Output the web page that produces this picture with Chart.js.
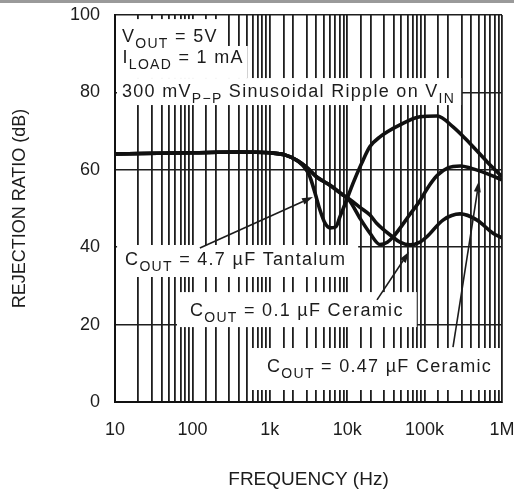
<!DOCTYPE html>
<html><head><meta charset="utf-8">
<script src="https://cdn.jsdelivr.net/npm/chart.js@4.4.1/dist/chart.umd.min.js"></script>
<style>html,body{margin:0;padding:0;background:#fff;overflow:hidden}</style>
</head><body>
<canvas id="c" width="514" height="493"></canvas>
<script>
// ---- data ----
const xTickValues = [10, 100, 1000, 10000, 100000, 1000000];
const xTickLabels = ['10', '100', '1k', '10k', '100k', '1M'];

const tantalumFreq = [10, 100, 400, 1000, 1600, 2300, 3000, 3300, 3840, 4450, 5170, 6000, 7160, 8070, 9840, 11880, 15380, 19700, 26500, 48000, 87000, 145000, 233000, 386000, 640000, 1000000];
const tantalumDb   = [64.1, 64.4, 64.6, 64.4, 63.8, 62.3, 59.8, 58.2, 54.0, 49.6, 46.2, 45.0, 45.3, 47.9, 52.2, 56.5, 61.7, 66.0, 68.5, 71.6, 73.7, 73.9, 71.1, 66.8, 62.1, 58.2];

const c047Freq = [10, 100, 400, 1000, 1600, 2300, 3000, 4000, 6000, 8800, 10500, 14600, 19700, 26500, 33000, 39000, 64800, 87000, 107000, 145000, 200000, 290000, 386000, 640000, 1000000];
const c047Db   = [64.1, 64.4, 64.6, 64.4, 63.8, 62.3, 60.6, 58.2, 56.0, 53.5, 52.3, 47.5, 43.6, 40.7, 41.3, 42.6, 48.5, 52.0, 55.0, 58.5, 60.5, 61.0, 60.5, 59.0, 57.4];

const c01Freq = [10, 100, 400, 1000, 1600, 2300, 3000, 4000, 6000, 8800, 10500, 14600, 19700, 24000, 39000, 48000, 64800, 87000, 107000, 173000, 287000, 476000, 765000, 1000000];
const c01Db   = [64.1, 64.4, 64.6, 64.4, 63.8, 62.3, 60.6, 58.2, 56.0, 53.5, 52.5, 50.3, 48.3, 46.2, 42.6, 41.3, 40.6, 41.3, 42.7, 47.0, 48.6, 47.0, 43.6, 42.4];

// ---- annotations (anchored in data coordinates) ----
const noteLines = [
  { f: 12.3, db: 93.0, runs: [['V'], ['OUT', 1], [' = 5V']], pad: [5, 4, 23, 4] },
  { f: 12.5, db: 87.6, runs: [['I'], ['LOAD', 1], [' = 1 mA']], pad: [6, 4, 17, 15] },
  { f: 12.3, db: 78.8, runs: [['300 mV'], ['P\u2212P', 1], [' Sinusoidal Ripple on V'], ['IN', 1]], pad: [5, 6, 19, 8] },
  { f: 13.5, db: 35.4, runs: [['C'], ['OUT', 1], [' = 4.7 \u00b5F Tantalum']], pad: [8, 12, 20, 12] },
  { f: 93, db: 22.2, runs: [['C'], ['OUT', 1], [' = 0.1 \u00b5F Ceramic']], pad: [13, 13, 24, 11] },
  { f: 920, db: 7.75, runs: [['C'], ['OUT', 1], [' = 0.47 \u00b5F Ceramic']], pad: [19, 8, 24, 18] }
];
const arrows = [
  { from: [125, 39.8], to: [3614, 53.0] },
  { from: [24270, 26.4], to: [62800, 38.8] },
  { from: [232800, 14.2], to: [505000, 57.1] }
];

const MAIN_FONT = '18px "Liberation Sans", Arial, sans-serif';
const SUB_FONT = '14px "Liberation Sans", Arial, sans-serif';
const SUB_DY = 6;
const INK = '#1c1c1c';

function pts(fs, ds) { return fs.map((f, i) => ({ x: f, y: ds[i] })); }

function runsWidth(ctx, runs) {
  let w = 0;
  runs.forEach(r => { ctx.font = r[1] ? SUB_FONT : MAIN_FONT; w += ctx.measureText(r[0]).width; });
  return w;
}
function noPad(s) { s.paddingTop = 0; s.paddingBottom = 0; s.paddingLeft = 0; s.paddingRight = 0; }

const notesPlugin = {
  id: 'notes',
  beforeDatasetsDraw(chart) {
    const ctx = chart.ctx, xs = chart.scales.x, ys = chart.scales.y, a = chart.chartArea;
    ctx.save();
    ctx.letterSpacing = '1.3px';
    noteLines.forEach(n => {
      const x = xs.getPixelForValue(n.f), y = ys.getPixelForValue(n.db);
      const w = runsWidth(ctx, n.runs);
      let l = Math.max(x - n.pad[0], a.left + 2), r = Math.min(x + w + n.pad[1], a.right - 2);
      ctx.fillStyle = '#fff';
      ctx.fillRect(l, y - n.pad[2], r - l, n.pad[2] + n.pad[3]);
    });
    ctx.fillStyle = INK;
    ctx.textBaseline = 'alphabetic';
    ctx.textAlign = 'left';
    noteLines.forEach(n => {
      let x = xs.getPixelForValue(n.f);
      const y = ys.getPixelForValue(n.db);
      n.runs.forEach(r => {
        ctx.font = r[1] ? SUB_FONT : MAIN_FONT;
        ctx.fillText(r[0], x, y + (r[1] ? SUB_DY : 0));
        x += ctx.measureText(r[0]).width;
      });
    });
    ctx.restore();
  },
  afterDatasetsDraw(chart) {
    const ctx = chart.ctx, xs = chart.scales.x, ys = chart.scales.y;
    ctx.save();
    ctx.strokeStyle = INK; ctx.fillStyle = INK; ctx.lineWidth = 1.6;
    arrows.forEach(ar => {
      const x0 = xs.getPixelForValue(ar.from[0]), y0 = ys.getPixelForValue(ar.from[1]);
      const x1 = xs.getPixelForValue(ar.to[0]), y1 = ys.getPixelForValue(ar.to[1]);
      const ang = Math.atan2(y1 - y0, x1 - x0), L = 11, H = 3.5;
      const bx = x1 - L * Math.cos(ang), by = y1 - L * Math.sin(ang);
      ctx.beginPath(); ctx.moveTo(x0, y0); ctx.lineTo(bx, by); ctx.stroke();
      ctx.beginPath();
      ctx.moveTo(x1, y1);
      ctx.lineTo(bx + H * Math.sin(ang), by - H * Math.cos(ang));
      ctx.lineTo(bx - H * Math.sin(ang), by + H * Math.cos(ang));
      ctx.closePath(); ctx.fill();
    });
    ctx.restore();
  },
  afterDraw(chart) {
    const ctx = chart.ctx;
    ctx.save(); ctx.fillStyle = '#9a9a9a'; ctx.fillRect(0, 0, chart.width, 3); ctx.restore();
  }
};

const curveStyle = { borderColor: '#111', borderWidth: 3.6, pointRadius: 0, tension: 0.4, cubicInterpolationMode: 'monotone', fill: false };

new Chart(document.getElementById('c'), {
  type: 'line',
  data: {
    datasets: [
      Object.assign({ label: 'COUT = 4.7 µF Tantalum', data: pts(tantalumFreq, tantalumDb) }, curveStyle),
      Object.assign({ label: 'COUT = 0.47 µF Ceramic', data: pts(c047Freq, c047Db) }, curveStyle),
      Object.assign({ label: 'COUT = 0.1 µF Ceramic', data: pts(c01Freq, c01Db) }, curveStyle)
    ]
  },
  options: {
    responsive: false,
    devicePixelRatio: 1,
    animation: false,
    layout: { padding: { top: 15, right: 12, left: 0, bottom: 0 } },
    plugins: { legend: { display: false }, tooltip: { enabled: false } },
    scales: {
      x: {
        type: 'logarithmic', min: 10, max: 1000000,
        afterFit(s) { s.height = 91; noPad(s); },
        grid: { color: '#1e1e1e', lineWidth: 1.8, drawTicks: false },
        border: { color: '#111', width: 2 },
        ticks: {
          autoSkip: false, maxRotation: 0, padding: 17, color: INK,
          font: { family: '"Liberation Sans", Arial, sans-serif', size: 18 },
          callback(v) {
            const i = xTickValues.findIndex(t => Math.abs(t - v) / t < 1e-6);
            return i >= 0 ? xTickLabels[i] : '';
          }
        },
        title: { display: true, text: 'FREQUENCY (Hz)', color: INK, padding: { top: 0, bottom: 2 },
          font: { family: '"Liberation Sans", Arial, sans-serif', size: 19 } }
      },
      y: {
        min: 0, max: 100,
        afterFit(s) { s.width = 115; noPad(s); },
        grid: { color: '#1e1e1e', lineWidth: 1.6, drawTicks: false },
        border: { color: '#111', width: 2 },
        ticks: { stepSize: 20, padding: 15, color: INK,
          font: { family: '"Liberation Sans", Arial, sans-serif', size: 18 } },
        title: { display: true, text: 'REJECTION RATIO (dB)', color: INK, padding: { top: 9, bottom: 0 },
          font: { family: '"Liberation Sans", Arial, sans-serif', size: 18 } }
      }
    }
  },
  plugins: [notesPlugin]
});
</script>
</body></html>
